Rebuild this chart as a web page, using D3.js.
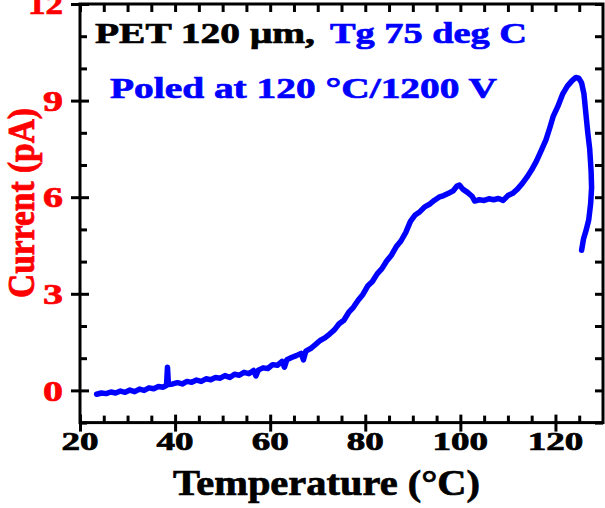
<!DOCTYPE html>
<html>
<head>
<meta charset="utf-8">
<script src="https://cdn.jsdelivr.net/npm/d3@7"></script>
<style>
  html, body { margin: 0; padding: 0; background: #fff; }
  svg { display: block; }
  text { font-family: "Liberation Serif", "Times New Roman", serif; font-weight: bold; stroke-width: 0.7px; }
</style>
</head>
<body>
<svg id="chart" width="605" height="508"></svg>
<script>
// Temperature (°C) and current (pA)
const temps = [
  23.5, 24.5, 25.5, 26.5, 27.5, 28.5, 29.5, 30.5, 31.5, 32.5, 33.5, 34.5, 35.5, 36.5, 37.5,
  38.2, 38.4, 38.6, 39.5, 40.5, 41.5, 42.5, 43.5, 44.5, 45.5, 46.5, 47.5, 48.5, 49.5, 50.5,
  51.5, 52.5, 53.5, 54.5, 55.5, 56.5, 57.0, 57.5, 58.5, 59.5, 60.5, 61.5, 62.5, 63.0, 63.5,
  64.5, 65.5, 66.5, 67.0, 67.5, 68.5, 69.5, 70.5, 71.5, 72.5, 73.5, 74.5, 75.5, 76.5, 77.5,
  78.5, 79.5, 80.5, 81.5, 82.5, 83.5, 84.5, 85.5, 86.5, 87.5, 88.5, 89.5, 90.5, 91.5, 92.5,
  93.5, 94.5, 95.5, 96.5, 97.5, 98.5, 99.3, 99.8, 100.5, 101.5, 102.5, 103.0, 104.0, 105.0, 106.0,
  107.0, 108.0, 109.0, 110.0, 111.0, 112.0, 113.0, 114.0, 115.0, 116.0, 117.0, 118.0, 118.8, 119.5, 120.5,
  121.5, 122.5, 123.5, 124.3, 124.9, 125.5, 126.0, 126.4, 126.8, 127.2, 127.5, 127.6, 127.4, 127.0, 126.5,
  125.9, 125.5
];
const current = [
  -0.12, -0.08, -0.10, -0.05, -0.08, -0.02, -0.06, 0.01, -0.04, 0.04, 0.00, 0.08, 0.05, 0.12, 0.10,
  0.16, 0.72, 0.18, 0.20, 0.24, 0.20, 0.28, 0.25, 0.32, 0.28, 0.36, 0.33, 0.40, 0.38, 0.46,
  0.40, 0.50, 0.47, 0.56, 0.52, 0.62, 0.45, 0.63, 0.70, 0.68, 0.80, 0.78, 0.90, 0.72, 0.95,
  1.02, 1.08, 1.15, 0.95, 1.22, 1.30, 1.42, 1.55, 1.63, 1.75, 1.88, 2.07, 2.18, 2.42, 2.58,
  2.80, 2.98, 3.24, 3.38, 3.62, 3.78, 4.02, 4.20, 4.46, 4.64, 4.90, 5.25, 5.45, 5.55, 5.70,
  5.78, 5.90, 6.00, 6.05, 6.12, 6.20, 6.35, 6.38, 6.25, 6.15, 6.02, 5.88, 5.92, 5.90, 5.95,
  5.92, 5.96, 5.90, 6.05, 6.12, 6.25, 6.42, 6.62, 6.85, 7.12, 7.45, 7.78, 8.15, 8.50, 8.82,
  9.20, 9.45, 9.62, 9.72, 9.70, 9.55, 9.20, 8.60, 8.00, 7.50, 6.80, 6.30, 5.80, 5.30, 5.00,
  4.70, 4.35
];

const xMajor = [20, 40, 60, 80, 100, 120];
const xMinor = [25, 30, 35, 45, 50, 55, 65, 70, 75, 85, 90, 95, 105, 110, 115, 125];
const yMajor = [0, 3, 6, 9, 12];
const yMinor = [-1, 1, 2, 4, 5, 7, 8, 10, 11];

const svg = d3.select("#chart");

const x = d3.scaleLinear().domain([20, 130]).range([80, 603]);
const y = d3.scaleLinear().domain([-1, 12]).range([422.6, 4]);

// frame around the plot
svg.append("rect")
  .attr("x", x(20)).attr("y", y(12))
  .attr("width", x(130) - x(20)).attr("height", y(-1) - y(12))
  .attr("fill", "none").attr("stroke", "#000").attr("stroke-width", 3);

function styleAxis(g) {
  g.select(".domain").remove();
  g.selectAll("line").attr("stroke", "#000").attr("stroke-width", 3);
}

// bottom axis: major ticks cross the line, minor ones point inward
const bottom = svg.append("g").attr("transform", `translate(0,${y(-1)})`)
  .call(d3.axisBottom(x).tickValues(xMajor).tickSize(9).tickPadding(0).tickFormat(""))
  .call(styleAxis);
bottom.selectAll("line").attr("y1", -8);
svg.append("g").attr("transform", `translate(0,${y(-1)})`)
  .call(d3.axisBottom(x).tickValues(xMinor).tickSize(-7).tickFormat(""))
  .call(styleAxis);

// left axis
const left = svg.append("g").attr("transform", `translate(${x(20)},0)`)
  .call(d3.axisLeft(y).tickValues(yMajor).tickSize(9).tickFormat(""))
  .call(styleAxis);
left.selectAll("line").attr("x1", 9);
svg.append("g").attr("transform", `translate(${x(20)},0)`)
  .call(d3.axisLeft(y).tickValues(yMinor).tickSize(-7).tickFormat(""))
  .call(styleAxis);

// top and right axes, ticks inward
svg.append("g").attr("transform", `translate(0,${y(12)})`)
  .call(d3.axisTop(x).tickValues(xMajor.concat(xMinor)).tickSize(-8).tickFormat(""))
  .call(styleAxis);
svg.append("g").attr("transform", `translate(${x(130)},0)`)
  .call(d3.axisRight(y).tickValues(yMajor.concat(yMinor)).tickSize(-8).tickFormat(""))
  .call(styleAxis);

// tick labels
svg.append("g").selectAll("text")
  .data(xMajor)
  .join("text")
  .attr("x", d => x(d)).attr("y", 450)
  .attr("text-anchor", "middle")
  .attr("font-size", 25)
  .attr("textLength", d => String(d).length * 18.5)
  .attr("lengthAdjust", "spacingAndGlyphs")
  .attr("fill", "#000").attr("stroke", "#000")
  .text(d => d);

svg.append("g").selectAll("text")
  .data(yMajor)
  .join("text")
  .attr("x", 63).attr("y", d => y(d))
  .attr("dy", "0.35em")
  .attr("text-anchor", "end")
  .attr("font-size", 29)
  .attr("textLength", d => String(d).length * 17.5 + (d < 10 ? 2.5 : 0))
  .attr("lengthAdjust", "spacingAndGlyphs")
  .attr("fill", "#ff0000").attr("stroke", "#ff0000")
  .text(d => d);

// axis titles
svg.append("text")
  .attr("x", 173).attr("y", 495)
  .attr("font-size", 36)
  .attr("textLength", 307).attr("lengthAdjust", "spacingAndGlyphs")
  .attr("fill", "#000").attr("stroke", "#000")
  .text("Temperature (°C)");

svg.append("g")
  .attr("transform", "translate(34,203) scale(1.2,1) rotate(-90)")
  .append("text")
  .attr("x", 0).attr("y", 0)
  .attr("text-anchor", "middle")
  .attr("font-size", 31)
  .attr("textLength", 190).attr("lengthAdjust", "spacingAndGlyphs")
  .attr("fill", "#ff0000").attr("stroke", "#ff0000")
  .text("Current (pA)");

// annotation
svg.append("text")
  .attr("x", 95).attr("y", 43)
  .attr("font-size", 30)
  .attr("textLength", 220).attr("lengthAdjust", "spacingAndGlyphs")
  .attr("fill", "#000").attr("stroke", "#000")
  .text("PET 120 μm,");
svg.append("text")
  .attr("x", 330).attr("y", 43)
  .attr("font-size", 30)
  .attr("textLength", 197).attr("lengthAdjust", "spacingAndGlyphs")
  .attr("fill", "#0000ff").attr("stroke", "#0000ff")
  .text("Tg 75 deg C");
svg.append("text")
  .attr("x", 110).attr("y", 98)
  .attr("font-size", 30)
  .attr("textLength", 387).attr("lengthAdjust", "spacingAndGlyphs")
  .attr("fill", "#0000ff").attr("stroke", "#0000ff")
  .text("Poled at 120 °C/1200 V");

// the TSC curve
const points = temps.map((t, i) => [t, current[i]]);
const line = d3.line().x(d => x(d[0])).y(d => y(d[1]));
svg.append("path")
  .datum(points)
  .attr("d", line)
  .attr("fill", "none")
  .attr("stroke", "#0000ff")
  .attr("stroke-width", 5.5)
  .attr("stroke-linejoin", "round")
  .attr("stroke-linecap", "round");
</script>
</body>
</html>
